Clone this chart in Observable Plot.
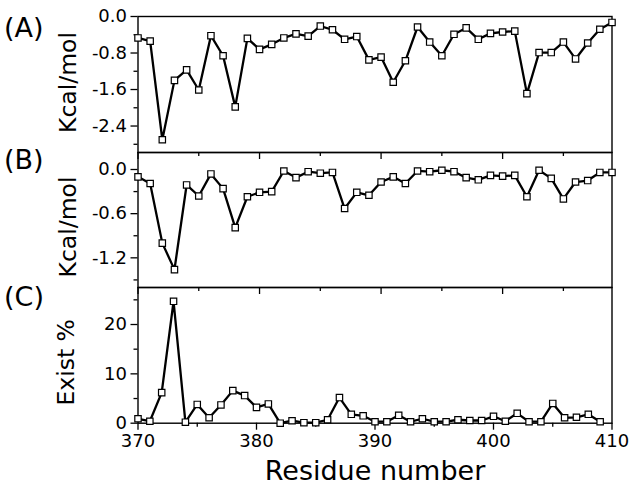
<!DOCTYPE html>
<html><head><meta charset="utf-8">
<script src="https://cdn.jsdelivr.net/npm/d3@7"></script>
<script src="https://cdn.jsdelivr.net/npm/@observablehq/plot@0.6"></script>
<style>
body{margin:0;background:#fff;}
#chart{position:relative;width:636px;height:489px;background:#fff;font-family:"DejaVu Sans",sans-serif;color:#000;}
#chart svg{position:absolute;left:0;}
.lab{position:absolute;font-size:27px;line-height:1;color:#000;font-family:"DejaVu Sans",sans-serif;}
</style></head><body><div id="chart"></div>
<script>
// Residue numbers (x)
const residues = [370,371,372,373,374,375,376,377,378,379,380,381,382,383,384,385,386,387,388,389,
                  390,391,392,393,394,395,396,397,398,399,400,401,402,403,404,405,406,407,408,409];
// Panel (A) energy, Kcal/mol
const energyA = [-0.47,-0.54,-2.70,-1.40,-1.17,-1.61,-0.42,-0.86,-1.98,-0.48,-0.72,-0.61,-0.47,-0.38,-0.43,-0.21,-0.29,-0.50,-0.44,-0.95,
                 -0.89,-1.44,-0.97,-0.23,-0.56,-0.86,-0.39,-0.25,-0.50,-0.37,-0.34,-0.32,-1.69,-0.79,-0.79,-0.56,-0.93,-0.58,-0.28,-0.13];
// Panel (B) energy, Kcal/mol
const energyB = [-0.10,-0.19,-1.00,-1.36,-0.21,-0.36,-0.06,-0.26,-0.79,-0.37,-0.31,-0.30,-0.02,-0.11,-0.03,-0.05,-0.04,-0.53,-0.31,-0.35,
                 -0.17,-0.10,-0.19,-0.02,-0.03,-0.01,-0.03,-0.11,-0.14,-0.08,-0.09,-0.08,-0.37,-0.01,-0.12,-0.40,-0.17,-0.15,-0.04,-0.04];
// Panel (C) existence, %
const existC = [0.9,0.4,6.2,24.7,0.2,3.8,1.1,3.7,6.6,5.6,3.2,3.9,0.0,0.5,0.1,0.1,0.7,5.2,1.8,1.5,
                0.3,0.3,1.6,0.3,0.9,0.3,0.3,0.7,0.55,0.55,1.4,0.4,2.0,0.3,0.3,4.0,1.1,1.2,1.8,0.3];

const yTicksA = [0, -0.8, -1.6, -2.4], yMinorA = [-0.4, -1.2, -2.0, -2.8];
const yTicksB = [0, -0.6, -1.2], yMinorB = [-0.3, -0.9, -1.5];
const yTicksC = [0, 10, 20], yMinorC = [5, 15, 25];
const xTicks = [370, 380, 390, 400, 410], xMinor = [375, 385, 395, 405];
const panelLetters = ["(A)", "(B)", "(C)"];
const yTitles = ["Kcal/mol", "Kcal/mol", "Exist %"];
const xTitle = "Residue number";

const FONT = '"DejaVu Sans", sans-serif';
const chart = document.getElementById("chart");

function panel(o) {
  const data = residues.map((r, i) => ({r, v: o.values[i]}));
  const xd = o.xDomain;
  const inX = t => t >= xd[0] && t <= xd[1];
  const marks = [
    Plot.axisY({ticks: o.yMinor, tickSize: 4, tickFormat: () => "", label: null, strokeWidth: 1.3}),
    Plot.axisY({ticks: o.yTicks, tickSize: 7, tickPadding: 4, tickFormat: o.fmt, label: null, strokeWidth: 1.3}),
    Plot.axisX({ticks: xMinor.filter(inX), tickSize: 4, tickFormat: () => "", label: null, strokeWidth: 1.3}),
    Plot.axisX({ticks: xTicks.filter(inX), tickSize: 7, tickPadding: 4, tickFormat: o.showX ? (d => String(d)) : (() => ""), label: null, strokeWidth: 1.3}),
    Plot.frame({stroke: "#000", strokeWidth: 1.4}),
    Plot.line(data, {x: "r", y: "v", stroke: "#000", strokeWidth: 2.3}),
    Plot.dot(data, {x: "r", y: "v", symbol: "square", r: 3.6, fill: "white", stroke: "#000", strokeWidth: 1.2}),
    Plot.text([o.ytitle], {frameAnchor: "left", textAnchor: "middle", lineAnchor: "middle", rotate: -90,
                           dx: o.titleDx, dy: o.titleDy, fontSize: 23.5, fill: "#000"})
  ];
  if (o.xtitle) marks.push(Plot.text([o.xtitle], {frameAnchor: "bottom", textAnchor: "middle", lineAnchor: "middle",
                                                   dy: 48, fontSize: 27, fill: "#000"}));
  const svg = Plot.plot({
    width: 636, height: o.height,
    marginLeft: 137.5, marginRight: 24.5, marginTop: o.mt, marginBottom: o.mb,
    style: {background: "transparent", overflow: "visible", fontFamily: FONT, fontSize: "18px", color: "#000"},
    x: {domain: xd}, y: {domain: o.yDomain},
    marks
  });
  svg.style.top = o.top + "px";
  chart.appendChild(svg);
}

const fmt1 = d => d.toFixed(1);
panel({values: energyA, xDomain: [370, 409], yDomain: [-2.98, 0], yTicks: yTicksA, yMinor: yMinorA, fmt: fmt1,
       top: 0, height: 152, mt: 16, mb: 0, ytitle: yTitles[0], titleDx: -70, titleDy: -2});
panel({values: energyB, xDomain: [370, 409], yDomain: [-1.603, 0.231], yTicks: yTicksB, yMinor: yMinorB, fmt: fmt1,
       top: 152, height: 135, mt: 0, mb: 0, ytitle: yTitles[1], titleDx: -70, titleDy: 7});
panel({values: existC, xDomain: [370, 410], yDomain: [0, 27.5], yTicks: yTicksC, yMinor: yMinorC, fmt: d => String(d),
       top: 287, height: 202, mt: 0, mb: 66.3, ytitle: yTitles[2], titleDx: -72, titleDy: 7, showX: true, xtitle: xTitle});

const letterTops = [14, 146, 283];
panelLetters.forEach((t, i) => {
  const d = document.createElement("div");
  d.className = "lab";
  d.textContent = t;
  d.style.left = "4px";
  d.style.top = letterTops[i] + "px";
  chart.appendChild(d);
});
</script></body></html>
